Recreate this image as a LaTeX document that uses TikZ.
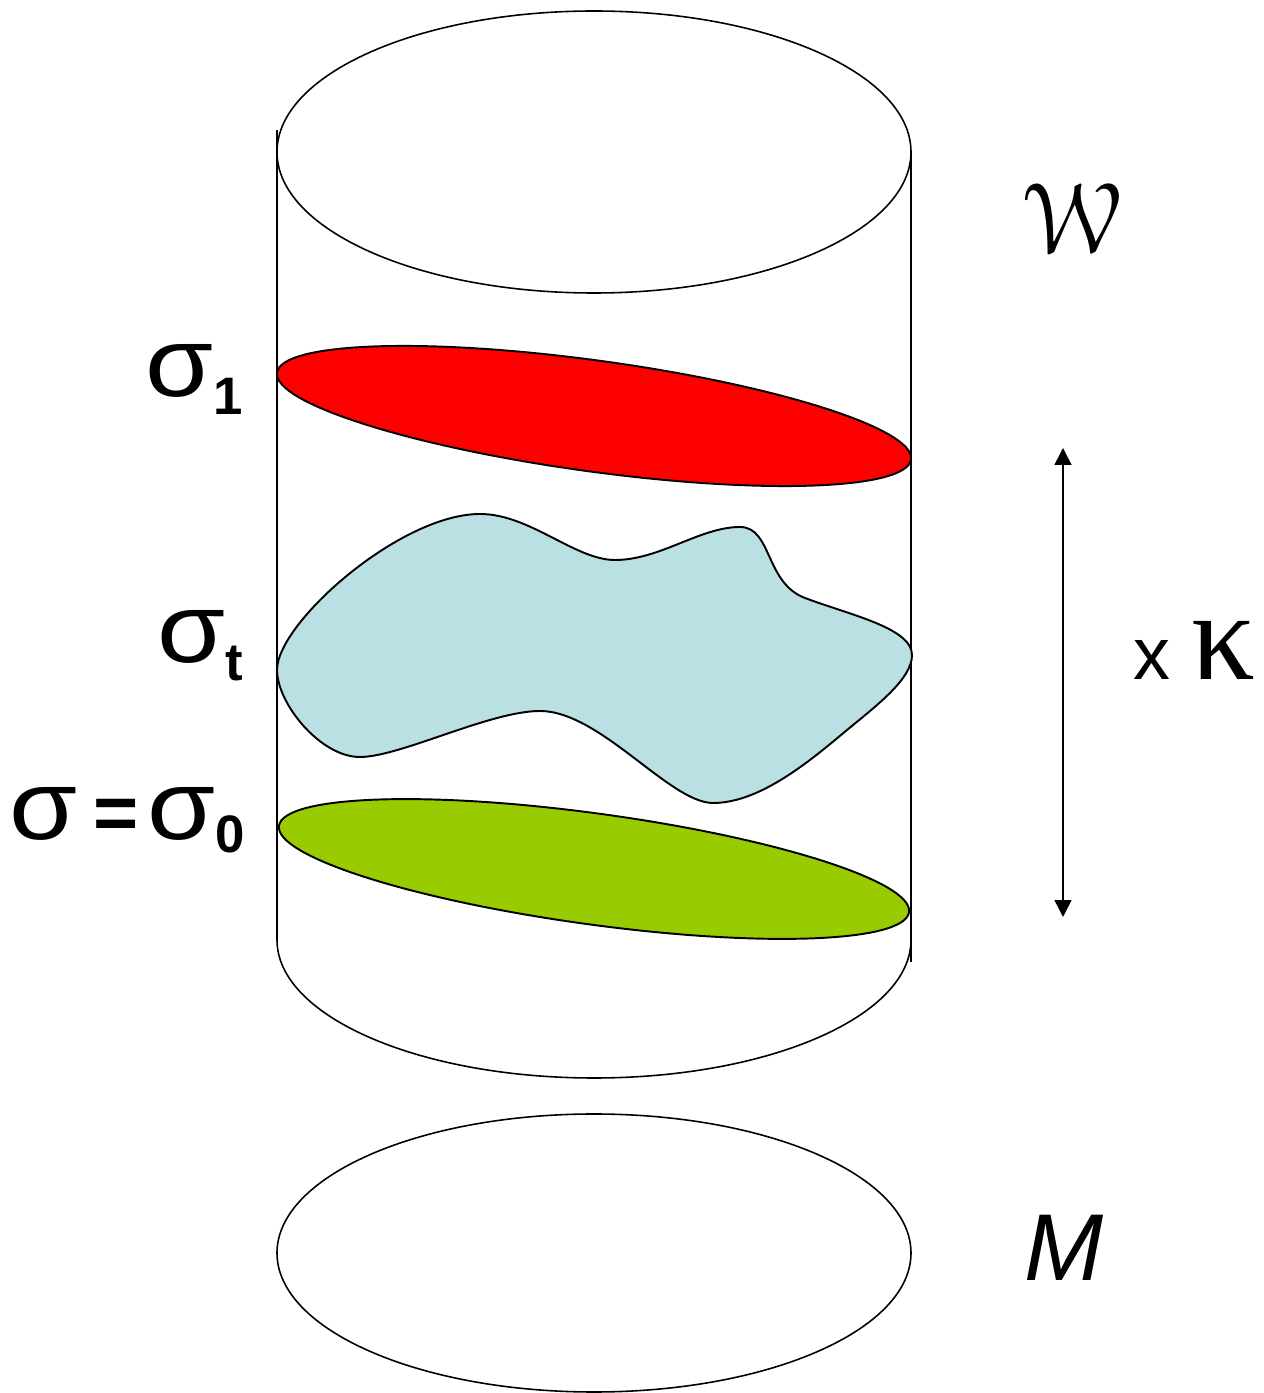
\documentclass[tikz,border=0pt]{standalone}
\usepackage{fontspec}
\setmainfont{Liberation Sans}
\newfontfamily\kappafont{Liberation Serif}
\usepackage{eucal}
\usepackage{graphicx}
\usepackage{tikz}
\usetikzlibrary{arrows.meta}
\definecolor{sheetred}{HTML}{FF0000}
\definecolor{sheetblue}{HTML}{BAE0E3}
\definecolor{sheetgreen}{HTML}{99CC00}
\tikzset{
  wall/.style={line width=0.45pt},
  sheet/.style={draw,line width=0.55pt},
  lbl/.style={inner sep=0pt,anchor=base west,font=\fontsize{28}{34}\selectfont},
  flow/.style={{Triangle[length=4.8pt,width=4.8pt]}-{Triangle[length=4.8pt,width=4.8pt]},line width=0.45pt}
}
\newcommand{\sgm}{\scalebox{1.12}[1]{σ}}
\newcommand{\sgsub}[2][-5pt]{\raisebox{#1}{\fontsize{15}{18}\selectfont\bfseries #2}}

\begin{document}
\begin{tikzpicture}[x=0.01cm,y=0.01cm]
\useasboundingbox (0,0) rectangle (1264,1393);
% cylinder W
\draw[wall] (594,1241) ellipse [x radius=317, y radius=141];
\draw[wall] (277,1263) -- (277,453);
\draw[wall] (911,1241) -- (911,431);
\draw[wall] (277,453) arc [start angle=180, end angle=360, x radius=317, y radius=138];
% base M
\draw[wall] (594,140) ellipse [x radius=317, y radius=139];
% slices
\draw[sheet,fill=sheetred,rotate around={-7.8:(594,977)}] (594,977) ellipse [x radius=320, y radius=55.5];
\draw[sheet,fill=sheetgreen,rotate around={-7.8:(594,524)}] (594,524) ellipse [x radius=318, y radius=55.5];
\draw[sheet,fill=sheetblue] (277,723)
  .. controls (277,770) and (400,879) .. (480,879)
  .. controls (530,879) and (575,833) .. (615,833)
  .. controls (660,833) and (700,866) .. (740,866)
  .. controls (772,866) and (765,810) .. (805,795)
  .. controls (850,778) and (912,765) .. (912,738)
  .. controls (912,715) and (880,690) .. (847,663)
  .. controls (810,632) and (760,590) .. (713,590)
  .. controls (670,590) and (600,682) .. (540,682)
  .. controls (490,682) and (400,636) .. (360,636)
  .. controls (320,636) and (277,690) .. (277,723) -- cycle;
% deformation arrow
\coordinate (kt) at (1063,945);
\coordinate (kb) at (1063,476);
\draw[flow] (kt) -- (kb);
% labels
\node[lbl] (s1) at (145,996) {\sgm\sgsub{1}};
\node[lbl] (st) at (157,730) {\sgm\sgsub{t}};
\node[lbl] (s0) at (9,553) {\sgm\hspace{4.5pt}{\fontsize{22}{26}\selectfont\bfseries =}\hspace{2.4pt}\sgm\sgsub[-3.5pt]{0}};
\node[inner sep=0pt,anchor=base west] (W) at (1022,1138) {\scalebox{1.15}{\fontsize{24.88}{30}\selectfont$\mathcal{W}$}};
\node[lbl,font=\fontsize{27}{32}\selectfont\itshape] (M) at (1024,113) {M};
\node[lbl] (xk) at (1133,713) {\fontsize{21}{25}\selectfont x {\kappafont\fontsize{36}{42}\selectfont κ}};
\end{tikzpicture}
\end{document}
